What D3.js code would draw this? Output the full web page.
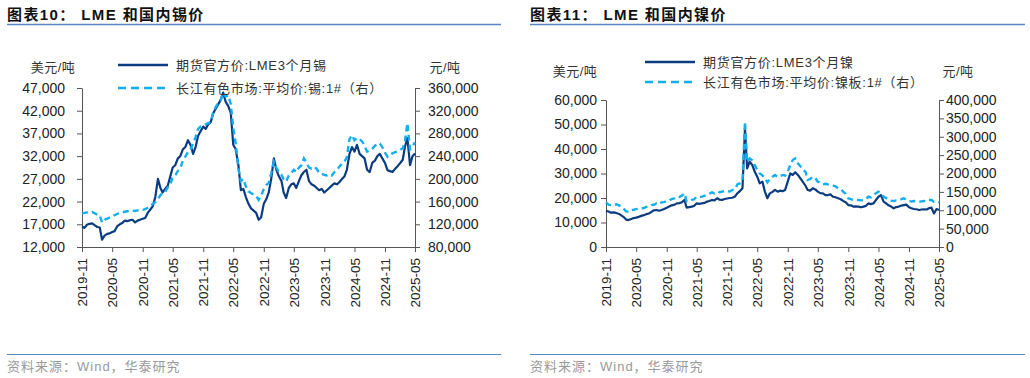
<!DOCTYPE html>
<html>
<head>
<meta charset="utf-8">
<script src="https://cdn.jsdelivr.net/npm/d3@7"></script>
<style>
  body { margin: 0; background: #fff; }
  svg { display: block; }
  text { font-family: "Liberation Sans", Arial, "Noto Sans CJK SC", sans-serif; }
  .title { font-size: 15px; font-weight: bold; fill: #111; letter-spacing: 1.4px; }
  .unit { font-size: 13px; fill: #333; letter-spacing: 0.5px; }
  .legend { font-size: 13px; fill: #333; letter-spacing: 0.7px; }
  .source { font-size: 13px; fill: #9a9a9a; letter-spacing: 1px; }
  .axis text { font-size: 14px; fill: #222; }
  .axis path, .axis line { stroke: #555; }
</style>
</head>
<body>
<svg id="chart" width="1030" height="378"></svg>
<script>
/* global d3 */
const xTickLabels = ['2019-11', '2020-05', '2020-11', '2021-05', '2021-11', '2022-05',
  '2022-11', '2023-05', '2023-11', '2024-05', '2024-11', '2025-05']

// semi-monthly readings (1st and 16th of each month), 2019-11 .. 2025-05
const tinLme = [
  16500, 16200, 16900, 17100,
  17200, 16800, 16400, 16300, 13600, 14500, 14900, 15000, 15300, 15500, 16600, 17000,
  17300, 17800, 17700, 17900, 18000, 17400, 17800, 18000, 18200, 18400, 19500, 20200,
  21000, 23000, 27000, 25000, 24000, 24800, 25500, 27500, 29500, 30000, 31500, 32000,
  33500, 34000, 35500, 34500, 32500, 34000, 36500, 37500, 38500, 38000, 39000, 39500,
  41500, 42500, 43500, 44500, 46000, 44000, 43000, 41500, 34500, 33500, 30000, 24500,
  24800, 23000, 21500, 20500, 20000, 19500, 18000, 18500, 21500, 22500, 24000, 27000,
  31500, 29000, 27500, 26500, 24000, 22800, 25000, 25800, 26000, 25000, 26500, 27800,
  28500, 29000, 26500, 25800, 25500, 25000, 24500, 24800, 24000, 24500, 25000, 25500,
  26000, 25800, 26300, 27000, 27500, 29000, 32500, 34000, 33000, 34500, 32500, 32000,
  31500, 29000, 28500, 30500, 31000, 32000, 32500, 31500, 30500, 28900, 28700, 28500,
  29200, 29800, 30500, 31200, 34000, 36000, 30000, 32000, 32600
]
const tinCn = [
  139000, 140000, 141000, 140500,
  141500, 139500, 137000, 136000, 123000, 128000, 130000, 132000, 134000, 136000, 138500, 139500,
  141000, 142000, 143000, 143500, 144000, 143500, 144500, 145000, 145500, 146500, 149000, 151500,
  156000, 159000, 165000, 171000, 176000, 177000, 185000, 190000, 203000, 206000, 214000, 219000,
  232000, 239000, 247000, 252000, 262000, 274000, 288000, 292000, 294000, 296000, 298000, 300000,
  318000, 327000, 335000, 340000, 352000, 345000, 347000, 332000, 290000, 262000, 218000, 196000,
  200000, 187000, 178000, 175000, 172000, 170000, 163000, 170000, 182000, 189000, 193000, 210000,
  230000, 220000, 212000, 207000, 199000, 195000, 206000, 210000, 216000, 212000, 220000, 224000,
  236000, 229000, 220000, 218000, 221000, 218000, 210000, 209000, 207000, 206000, 208000, 206000,
  212000, 215000, 222000, 227000, 230000, 238000, 270000, 277000, 268000, 272000, 270000, 266000,
  258000, 248000, 250000, 253000, 258000, 262000, 262000, 256000, 246000, 239000, 243000, 245000,
  247000, 248000, 251000, 254000, 265000, 298000, 252000, 258000, 264000
]
const nickelLme = [
  14800, 14500, 14000, 14100,
  13900, 13600, 12900, 12200, 11200, 11000, 11400, 11800, 12000, 12300, 12700, 13000,
  13400, 13700, 14300, 15000, 15100, 14800, 15100, 15500, 16000, 16500, 17000, 17200,
  17800, 17900, 18300, 19200, 16100, 16300, 16500, 16800, 17800, 17600, 17800, 18000,
  18500, 18800, 19200, 19000, 19900, 19300, 19200, 19600, 19800, 20000, 20100, 20500,
  21900, 22800, 24000, 48400, 32100, 34800, 33500, 30700, 28700, 26000, 26700, 22600,
  19900, 21900, 22500, 23300, 22600, 23000, 22800, 23300, 26700, 30000, 29400, 30500,
  29400, 28000, 26500, 25000, 23300, 23000, 24000, 23500, 22600, 22000, 21900, 21200,
  21200, 21500, 20500, 20300, 19900, 19500, 18800, 18300, 17100, 17000, 16500, 16600,
  16500, 16200, 16500, 16800, 17800, 17500, 17800, 19200, 20500, 21200, 18500, 17800,
  17000, 16500, 15800, 16300, 16500, 16900, 17100, 17300, 16200, 15800, 15500, 15400,
  15100, 15300, 15400, 15300, 15800, 16100, 13700, 15500, 15100
]
const nickelCn = [
  121500, 115000, 114000, 113500,
  116000, 114000, 110000, 104000, 97000, 96000, 100700, 101500, 103000, 104000, 105000, 106000,
  109000, 110000, 114000, 115000, 119000, 117000, 121500, 122000, 125000, 126000, 130600, 132000,
  137000, 136000, 140000, 146000, 125000, 124000, 128000, 130000, 137000, 136000, 137000, 139000,
  143000, 145000, 148700, 146000, 150500, 149000, 150500, 152000, 152000, 151000, 155000, 157000,
  170000, 173000, 179600, 341000, 232000, 241000, 236000, 223000, 209500, 200000, 195000, 187000,
  176000, 185000, 191000, 196000, 191000, 193000, 196000, 194000, 205000, 223000, 236700, 241000,
  227600, 220000, 209500, 205000, 182300, 185000, 191000, 188000, 177800, 175000, 170500, 172000,
  170500, 169000, 166900, 165000, 159600, 158000, 150500, 145000, 132400, 130000, 127900, 128500,
  127900, 127000, 127900, 130000, 137000, 135000, 141500, 146000, 150500, 145000, 137000, 133000,
  127900, 126000, 125000, 127000, 127900, 130000, 132400, 128000, 125000, 124000, 125000, 124000,
  123000, 124000, 125000, 124500, 127900, 128000, 123000, 124000, 121500
]

const tinLeftTicks = [12000, 17000, 22000, 27000, 32000, 37000, 42000, 47000]
const tinRightTicks = [80000, 120000, 160000, 200000, 240000, 280000, 320000, 360000]
const nickelLeftTicks = [0, 10000, 20000, 30000, 40000, 50000, 60000]
const nickelRightTicks = [0, 50000, 100000, 150000, 200000, 250000, 300000, 350000, 400000]

const parseMonth = d3.timeParse('%Y-%m')
const xTicks = xTickLabels.map(parseMonth)
const months = d3.timeMonth.range(xTicks[0], d3.timeMonth.offset(xTicks[xTicks.length - 1], 1))
const dates = months.flatMap((m) => [m, d3.timeDay.offset(m, 15)]).slice(0, tinLme.length)

const darkBlue = '#0c3c80'
const lightBlue = '#13aef0'
const ruleBlue = '#5b87c0'
const fmt = d3.format(',')

const svg = d3.select('#chart')

function drawPanel(p) {
  const g = svg.append('g')

  g.append('text').attr('class', 'title').attr('x', p.titleX).attr('y', 20).text(p.title)
  g.append('line')
    .attr('x1', p.titleX).attr('x2', p.ruleEnd)
    .attr('y1', 24.5).attr('y2', 24.5)
    .attr('stroke', ruleBlue).attr('stroke-width', 1.5)
  g.append('line')
    .attr('x1', p.titleX).attr('x2', p.ruleEnd)
    .attr('y1', 354.5).attr('y2', 354.5)
    .attr('stroke', ruleBlue).attr('stroke-width', 1)
  g.append('text').attr('class', 'source').attr('x', p.titleX).attr('y', 371)
    .text('资料来源：Wind，华泰研究')

  const bottom = 247
  const x = d3.scaleTime().domain(d3.extent(xTicks)).range([p.left, p.right])
  const yL = d3.scaleLinear().domain(d3.extent(p.leftTicks)).range([bottom, p.top])
  const yR = d3.scaleLinear().domain(d3.extent(p.rightTicks)).range([bottom, p.top])

  g.append('g').attr('class', 'axis')
    .attr('transform', `translate(${p.left},0)`)
    .call(d3.axisLeft(yL).tickValues(p.leftTicks).tickSize(5).tickSizeOuter(0)
      .tickPadding(p.leftPad).tickFormat(fmt))

  g.append('g').attr('class', 'axis')
    .attr('transform', `translate(${p.right},0)`)
    .call(d3.axisRight(yR).tickValues(p.rightTicks).tickSize(5).tickSizeOuter(0)
      .tickPadding(p.rightPad).tickFormat(fmt))

  const xAxis = g.append('g').attr('class', 'axis')
    .attr('transform', `translate(0,${bottom})`)
    .call(d3.axisBottom(x).tickValues(xTicks).tickSize(5).tickSizeOuter(0)
      .tickFormat(d3.timeFormat('%Y-%m')))
  xAxis.selectAll('text')
    .attr('transform', 'rotate(-90)')
    .attr('text-anchor', 'end')
    .attr('x', -11).attr('y', 0).attr('dy', '0.35em')
    .style('font-size', '13.5px')

  const lineL = d3.line().x((d, i) => x(dates[i])).y((d) => yL(d))
  const lineR = d3.line().x((d, i) => x(dates[i])).y((d) => yR(d))

  g.append('path').datum(p.usd)
    .attr('d', lineL).attr('fill', 'none')
    .attr('stroke', darkBlue).attr('stroke-width', 2.2).attr('stroke-linejoin', 'round')
  g.append('path').datum(p.cny)
    .attr('d', lineR).attr('fill', 'none')
    .attr('stroke', lightBlue).attr('stroke-width', 2.4).attr('stroke-dasharray', '6,4')

  // legend + units
  const lg = g.append('g')
  lg.append('line').attr('x1', p.legX).attr('x2', p.legX + 50)
    .attr('y1', p.legY1).attr('y2', p.legY1)
    .attr('stroke', darkBlue).attr('stroke-width', 2.5)
  lg.append('line').attr('x1', p.legX).attr('x2', p.legX + 50)
    .attr('y1', p.legY2).attr('y2', p.legY2)
    .attr('stroke', lightBlue).attr('stroke-width', 2.5).attr('stroke-dasharray', '8,5')
  lg.append('text').attr('class', 'legend').attr('x', p.legX + 58).attr('y', p.legY1 + 4.5).text(p.name1)
  lg.append('text').attr('class', 'legend').attr('x', p.legX + 58).attr('y', p.legY2 + 4.5).text(p.name2)

  g.append('text').attr('class', 'unit').attr('x', p.unitLX).attr('y', p.unitY)
    .attr('text-anchor', 'middle').text('美元/吨')
  g.append('text').attr('class', 'unit').attr('x', p.unitRX).attr('y', p.unitY)
    .attr('text-anchor', 'middle').text('元/吨')
}

drawPanel({
  title: '图表10： LME 和国内锡价',
  titleX: 7, ruleEnd: 501,
  left: 82, right: 415, top: 88,
  leftTicks: tinLeftTicks, rightTicks: tinRightTicks,
  leftPad: 12, rightPad: 8,
  usd: tinLme, cny: tinCn,
  legX: 118, legY1: 65, legY2: 88,
  name1: '期货官方价:LME3个月锡', name2: '长江有色市场:平均价:锡:1#（右）',
  unitLX: 53, unitRX: 445, unitY: 72
})

drawPanel({
  title: '图表11： LME 和国内镍价',
  titleX: 530, ruleEnd: 1025,
  left: 606, right: 939, top: 100,
  leftTicks: nickelLeftTicks, rightTicks: nickelRightTicks,
  leftPad: 4, rightPad: 2,
  usd: nickelLme, cny: nickelCn,
  legX: 645, legY1: 62, legY2: 82,
  name1: '期货官方价:LME3个月镍', name2: '长江有色市场:平均价:镍板:1#（右）',
  unitLX: 575, unitRX: 958, unitY: 76
})
</script>
</body>
</html>
